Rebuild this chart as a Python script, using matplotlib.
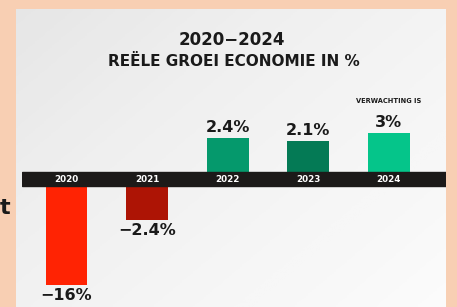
import numpy as np
import matplotlib.pyplot as plt
from matplotlib.patches import Rectangle

years = ["2020", "2021", "2022", "2023", "2024"]
growth = [-16, -2.4, 2.4, 2.1, 3]
labels = ["\u221216%", "\u22122.4%", "2.4%", "2.1%", "3%"]
colors = ["#ff2303", "#ad1405", "#05996c", "#047a55", "#05c58a"]

W, H = 457, 307
fig = plt.figure(figsize=(W / 100, H / 100), dpi=100)
fig.patch.set_facecolor("#f8cfb3")

# grey panel with a light gradient
bg = fig.add_axes([16 / W, 0, 430 / W, (H - 9) / H])
gx, gy = np.meshgrid(np.linspace(0, 1, 200), np.linspace(0, 1, 200))
grad = 0.55 * gx + 0.45 * gy
bg.imshow(grad, cmap="Greys_r", vmin=-5.5, vmax=1.2, aspect="auto",
          extent=(0, 1, 0, 1), origin="upper")
bg.set_axis_off()

# cut-off word on the left
fig.text(0, 1 - 208 / H, "t", fontsize=16, fontweight="bold",
         color="#1a1a1a", ha="left", va="center")


def fwd(v):
    return np.sign(v) * np.sqrt(np.abs(v))


def inv(v):
    return np.sign(v) * v ** 2


k = 26.5  # px per sqrt unit
zero_px = 179
ax = fig.add_axes([22 / W, 0, 424 / W, 1])
ax.set_yscale("function", functions=(fwd, inv))
ax.set_axis_off()

x = np.arange(len(years))
ax.bar(x, growth, width=0.52, color=colors, zorder=2)

# black band with the years
band = Rectangle((22 / W, 1 - 186 / H), 424 / W, 14 / H,
                 transform=fig.transFigure, color="#1c1a19", zorder=3)
ax.add_patch(band)
for xi, yr in zip(x, years):
    ax.text(xi, 0, yr, color="white", fontsize=6.3, fontweight="bold",
            ha="center", va="center", zorder=4)

for xi, v, lab in zip(x, growth, labels):
    if v > 0:
        ax.annotate(lab, (xi, v), xytext=(0, 2), textcoords="offset points",
                    ha="center", va="bottom", fontsize=11.5,
                    fontweight="bold", color="#1a1a1a")
    else:
        ax.annotate(lab, (xi, v), xytext=(0, -2), textcoords="offset points",
                    ha="center", va="top", fontsize=11.5,
                    fontweight="bold", color="#1a1a1a")

ax.annotate("VERWACHTING IS", (x[-1], growth[-1]), xytext=(0, 21),
            textcoords="offset points", ha="center", va="bottom",
            fontsize=4.8, fontweight="bold", color="#1a1a1a")

ax.set_ylim(-((H - zero_px) / k) ** 2, (zero_px / k) ** 2)
ax.set_xlim(-0.552, 4.71)

fig.text(232 / W, 1 - 40 / H, "2020\u22122024", fontsize=12,
         fontweight="bold", ha="center", va="center", color="#1a1a1a")
fig.text(234 / W, 1 - 62 / H, "RE\u00cbLE GROEI ECONOMIE IN %", fontsize=11,
         fontweight="bold", ha="center", va="center", color="#1a1a1a")

fig.savefig("out.png", dpi=100, facecolor=fig.get_facecolor())
